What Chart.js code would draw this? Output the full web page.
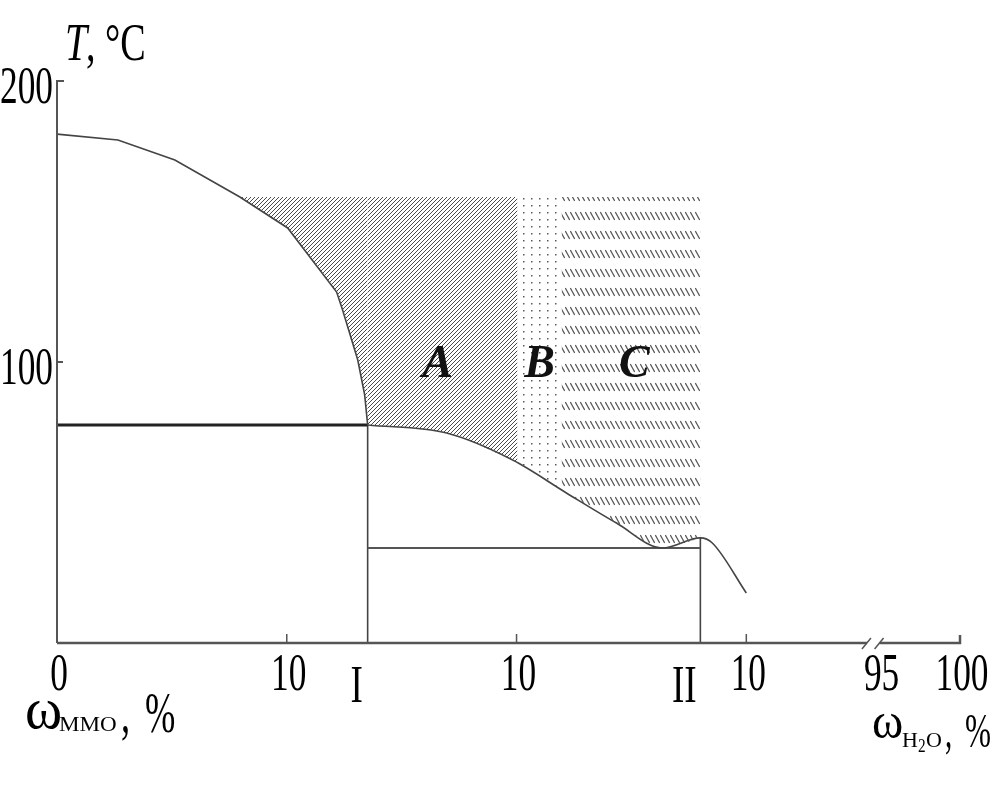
<!DOCTYPE html>
<html>
<head>
<meta charset="utf-8">
<script src="https://cdn.jsdelivr.net/npm/chart.js@4.4.1/dist/chart.umd.min.js"></script>
<style>
  html, body { margin: 0; padding: 0; background: #fff; }
  #wrap { width: 1006px; height: 785px; }
</style>
</head>
<body>
<div id="wrap"><canvas id="phaseChart" width="1006" height="785"></canvas></div>
<script>
/*  Phase diagram MMO - H2O  */

// axis ticks (x is a composite scale: wMMO, then wH2O after the break)
const xTickVals = [0, 10, 20, 30, 35.8, 39.3];
const xTickLabels = ["0", "10", "10", "10", "95", "100"];
const yTickVals = [100, 200];
const yTickLabels = ["100", "200"];

// marked compositions I and II
const markX = [13.52, 28.0];
const markLabels = ["I", "II"];

// liquidus, left branch
const curve1X = [0, 2.65, 5.13, 7.96, 10.04, 12.17, 12.43, 13.09, 13.39, 13.52];
const curve1T = [181.1, 179.0, 171.9, 158.7, 147.7, 124.9, 118.5, 100.7, 88.3, 77.6];

// liquidus, right branch
const curve2X = [13.52, 16.96, 19.83, 22.17, 24.35, 26.35, 28.0, 28.52, 30.0];
const curve2T = [77.6, 74.7, 65.1, 53.4, 42.7, 33.8, 37.4, 35.6, 17.8];

// horizontal (eutectic) lines
const line1X = [0, 13.52];
const line1T = [77.6, 77.6];
const line2X = [13.52, 28.0];
const line2T = [33.8, 33.8];

// shaded regions: lower boundary, filled up to regionTop
const regionTop = 158.7;
const regionA1X = [7.96, 10.04, 12.17, 12.43, 13.09, 13.39, 13.52];
const regionA1T = [158.7, 147.7, 124.9, 118.5, 100.7, 88.3, 77.6];
const regionA2X = [13.52, 16.96, 19.83, 20.04];
const regionA2T = [77.6, 74.7, 65.1, 64.4];
const regionBX = [20.04, 21.96];
const regionBT = [64.4, 54.1];
const regionCX = [21.96, 22.17, 24.35, 26.35, 28.0];
const regionCT = [54.1, 53.4, 42.7, 33.8, 37.4];

const regionNames = ["A", "B", "C"];
const regionNameX = [16.56, 21.0, 25.13];
const regionNameT = [100, 100, 100];

const SERIF = '"Liberation Serif", "Times New Roman", serif';

function pts(xs, ys) {
    return xs.map(function (x, i) { return { x: x, y: ys[i] }; });
}

function makePattern(w, h, draw) {
    var c = document.createElement("canvas");
    c.width = w; c.height = h;
    var g = c.getContext("2d");
    draw(g);
    return g.createPattern(c, "repeat");
}

var hatchA = makePattern(4, 4, function (g) {
    g.strokeStyle = "#4a4a4a"; g.lineWidth = 1;
    g.beginPath();
    g.moveTo(0, 4); g.lineTo(4, 0);
    g.moveTo(-1, 1); g.lineTo(1, -1);
    g.moveTo(3, 5); g.lineTo(5, 3);
    g.stroke();
});
var dotsB = makePattern(8, 7, function (g) {
    g.fillStyle = "#5a5a5a";
    g.fillRect(3, 2, 1.5, 1.5);
});
var dashC = makePattern(5, 19, function (g) {
    g.strokeStyle = "#555"; g.lineWidth = 1.25;
    g.beginPath();
    g.moveTo(0.3, 3); g.lineTo(4.7, 11);
    g.stroke();
});

function lineDs(xs, ys, color, width, smooth) {
    return {
        data: pts(xs, ys), borderColor: color, borderWidth: width,
        pointRadius: 0, fill: false,
        cubicInterpolationMode: smooth ? "monotone" : "default", tension: 0
    };
}
function regionDs(xs, ys, pattern, smooth) {
    return {
        data: pts(xs, ys), borderWidth: 0, borderColor: "rgba(0,0,0,0)",
        backgroundColor: pattern, pointRadius: 0, tension: 0,
        cubicInterpolationMode: smooth ? "monotone" : "default",
        fill: { value: regionTop }
    };
}

// narrow text helper: sq = horizontal squeeze
function sText(ctx, s, x, y, font, sq, align) {
    ctx.save();
    ctx.font = font;
    var w = ctx.measureText(s).width * sq;
    var lx = align === "center" ? x - w / 2 : (align === "right" ? x - w : x);
    ctx.translate(lx, y);
    ctx.scale(sq, 1);
    ctx.textAlign = "left";
    ctx.fillText(s, 0, 0);
    ctx.restore();
    return w;
}

/* ====== AXES, BREAK, TEXTS ====== */
const decorPlugin = {
    id: "decor",
    afterDraw: function (chart) {
        var ctx = chart.ctx, xs = chart.scales.x, ys = chart.scales.y;
        var x0 = xs.getPixelForValue(0), y0 = ys.getPixelForValue(0);
        var yTop = ys.getPixelForValue(200), yMid = ys.getPixelForValue(100);
        ctx.save();

        // y axis
        ctx.strokeStyle = "#555"; ctx.lineWidth = 2;
        ctx.beginPath();
        ctx.moveTo(x0, y0); ctx.lineTo(x0, yTop); ctx.lineTo(x0 + 7, yTop);
        ctx.moveTo(x0, yMid); ctx.lineTo(x0 + 6, yMid);
        ctx.stroke();

        // x axis with break
        var bL = xs.getPixelForValue(35.25), bR = xs.getPixelForValue(35.8);
        var xEnd = xs.getPixelForValue(39.3);
        ctx.lineWidth = 2.5; ctx.strokeStyle = "#555";
        ctx.beginPath();
        ctx.moveTo(x0, y0); ctx.lineTo(bL, y0);
        ctx.moveTo(bR, y0); ctx.lineTo(xEnd, y0); ctx.lineTo(xEnd, y0 - 8);
        ctx.stroke();
        ctx.lineWidth = 1.5;
        ctx.beginPath();
        [bL, bR].forEach(function (bx) {
            ctx.moveTo(bx - 5, y0 + 6); ctx.lineTo(bx + 4, y0 - 5);
        });
        ctx.stroke();
        // small inner ticks
        ctx.beginPath();
        [10, 20, 30].forEach(function (v) {
            var px = xs.getPixelForValue(v);
            ctx.moveTo(px, y0); ctx.lineTo(px, y0 - 9);
        });
        ctx.stroke();

        ctx.fillStyle = "#000";
        ctx.textBaseline = "alphabetic";
        var numFont = "52px " + SERIF;

        // tick labels, placed by the scales
        xs.ticks.forEach(function (t, i) {
            sText(ctx, xTickLabels[i], xs.getPixelForValue(t.value) + 2, y0 + 47, numFont, 0.68, "center");
        });
        ys.ticks.forEach(function (t, i) {
            sText(ctx, yTickLabels[i], x0 - 4, ys.getPixelForValue(t.value) + 22, numFont, 0.68, "right");
        });

        // I, II
        markLabels.forEach(function (lab, i) {
            var px = xs.getPixelForValue(markX[i]);
            sText(ctx, lab, px - (i === 0 ? 11 : 16), y0 + 59, "53px " + SERIF, 0.7, "center");
        });

        // region names
        ctx.fillStyle = "#111";
        regionNames.forEach(function (lab, i) {
            sText(ctx, lab, xs.getPixelForValue(regionNameX[i]), ys.getPixelForValue(regionNameT[i]) + 15,
                "bold italic 46px " + SERIF, 1.0, "center");
        });

        // y title: T, °C
        ctx.fillStyle = "#000";
        sText(ctx, "T", 65, 60, "italic 53px " + SERIF, 0.75, "left");
        sText(ctx, ", \u00b0C", 86, 60, "53px " + SERIF, 0.72, "left");

        // wMMO, %
        sText(ctx, "\u03c9", 25, 728, "60px " + SERIF, 0.94, "left");
        sText(ctx, "MMO", 59, 731, "22px " + SERIF, 1.05, "left");
        sText(ctx, ",", 121, 732, "56px " + SERIF, 0.65, "left");
        sText(ctx, "%", 145, 732, "56px " + SERIF, 0.65, "left");

        // wH2O, %
        sText(ctx, "\u03c9", 872, 738, "50px " + SERIF, 0.95, "left");
        sText(ctx, "H", 902, 747, "22px " + SERIF, 1.0, "left");
        sText(ctx, "2", 918, 752, "18px " + SERIF, 0.85, "left");
        sText(ctx, "O", 926, 747, "22px " + SERIF, 1.0, "left");
        sText(ctx, ",", 945, 747, "48px " + SERIF, 0.6, "left");
        sText(ctx, "%", 965, 747, "48px " + SERIF, 0.65, "left");

        ctx.restore();
    }
};

/* ====== CHART ====== */
var ctx = document.getElementById("phaseChart").getContext("2d");
new Chart(ctx, {
    type: "line",
    data: {
        datasets: [
            regionDs(regionA1X, regionA1T, hatchA, false),
            regionDs(regionA2X, regionA2T, hatchA, true),
            regionDs(regionBX, regionBT, dotsB, false),
            regionDs(regionCX, regionCT, dashC, true),
            lineDs(curve1X, curve1T, "#444", 1.6, false),
            lineDs(curve2X, curve2T, "#444", 1.6, true),
            lineDs(line1X, line1T, "#222", 3),
            lineDs(line2X, line2T, "#555", 2),
            lineDs([markX[0], markX[0]], [line1T[0], 0], "#444", 1.6),
            lineDs([markX[1], markX[1]], [curve2T[6], 0], "#444", 1.6)
        ]
    },
    options: {
        responsive: false,
        animation: false,
        events: [],
        layout: { padding: { top: 81, right: 46, left: 0, bottom: 0 } },
        plugins: { legend: { display: false }, tooltip: { enabled: false } },
        scales: {
            x: {
                type: "linear", min: 0, max: 39.3,
                grid: { display: false, drawTicks: false },
                border: { display: false },
                afterBuildTicks: function (s) { s.ticks = xTickVals.map(function (v) { return { value: v }; }); },
                afterFit: function (s) { s.height = 142; },
                ticks: {
                    display: false, autoSkip: false,
                    callback: function (v, i) { return xTickLabels[i]; }
                }
            },
            y: {
                min: 0, max: 200,
                grid: { display: false, drawTicks: false },
                border: { display: false },
                afterBuildTicks: function (s) { s.ticks = yTickVals.map(function (v) { return { value: v }; }); },
                afterFit: function (s) { s.width = 57; },
                ticks: {
                    display: false, autoSkip: false,
                    callback: function (v, i) { return yTickLabels[i]; }
                }
            }
        }
    },
    plugins: [decorPlugin]
});
</script>
</body>
</html>
